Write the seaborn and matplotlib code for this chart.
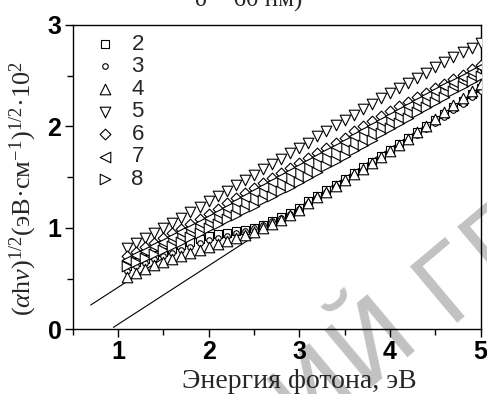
"""
Спектры поглощения: (alpha h nu)^1/2 против энергии фотона, образцы 2-8.
"""

import matplotlib
matplotlib.use("Agg")
import matplotlib.pyplot as plt
import pandas as pd
import seaborn as sns

# ── Data ─────────────────────────────────────────────────────────────────────
energy = [1.1, 1.2, 1.3, 1.4, 1.5, 1.6, 1.7, 1.8, 1.9, 2.0,
          2.1, 2.2, 2.3, 2.4, 2.5, 2.6, 2.7, 2.8, 2.9, 3.0,
          3.1, 3.2, 3.3, 3.4, 3.5, 3.6, 3.7, 3.8, 3.9, 4.0,
          4.1, 4.2, 4.3, 4.4, 4.5, 4.6, 4.7, 4.8, 4.9, 5.0]

s2 = [0.62, 0.66, 0.69, 0.73, 0.76, 0.79, 0.83, 0.86, 0.89, 0.92,
      0.94, 0.95, 0.97, 0.98, 1.00, 1.03, 1.07, 1.11, 1.15, 1.20,
      1.26, 1.31, 1.37, 1.42, 1.48, 1.54, 1.60, 1.65, 1.71, 1.77,
      1.83, 1.89, 1.94, 2.00, 2.06, 2.12, 2.19, 2.25, 2.32, 2.38]
s3 = [0.58, 0.62, 0.65, 0.69, 0.72, 0.75, 0.78, 0.81, 0.85, 0.88,
      0.90, 0.92, 0.95, 0.97, 1.00, 1.03, 1.07, 1.10, 1.14, 1.19,
      1.24, 1.30, 1.35, 1.41, 1.46, 1.52, 1.57, 1.63, 1.68, 1.74,
      1.80, 1.86, 1.91, 1.97, 2.03, 2.09, 2.16, 2.22, 2.29, 2.35]
s4 = [0.52, 0.56, 0.59, 0.63, 0.66, 0.69, 0.72, 0.75, 0.78, 0.81,
      0.84, 0.87, 0.90, 0.93, 0.96, 1.00, 1.04, 1.08, 1.13, 1.18,
      1.24, 1.30, 1.35, 1.41, 1.47, 1.53, 1.58, 1.64, 1.70, 1.76,
      1.82, 1.88, 1.94, 2.00, 2.07, 2.14, 2.21, 2.28, 2.35, 2.42]
s5 = [0.80, 0.85, 0.90, 0.95, 1.00, 1.05, 1.10, 1.16, 1.21, 1.26,
      1.31, 1.36, 1.42, 1.47, 1.52, 1.58, 1.63, 1.68, 1.74, 1.79,
      1.84, 1.90, 1.95, 2.01, 2.06, 2.11, 2.17, 2.22, 2.28, 2.33,
      2.38, 2.43, 2.48, 2.53, 2.58, 2.63, 2.68, 2.73, 2.77, 2.82]
s6 = [0.72, 0.76, 0.81, 0.85, 0.90, 0.95, 0.99, 1.04, 1.09, 1.14,
      1.19, 1.24, 1.29, 1.34, 1.39, 1.44, 1.49, 1.54, 1.59, 1.64,
      1.69, 1.74, 1.79, 1.84, 1.89, 1.95, 2.00, 2.05, 2.10, 2.15,
      2.20, 2.24, 2.29, 2.33, 2.38, 2.42, 2.47, 2.51, 2.56, 2.60]
s7 = [0.68, 0.73, 0.77, 0.82, 0.86, 0.91, 0.96, 1.00, 1.05, 1.10,
      1.15, 1.20, 1.25, 1.30, 1.35, 1.40, 1.45, 1.50, 1.55, 1.60,
      1.65, 1.70, 1.75, 1.80, 1.85, 1.90, 1.95, 2.00, 2.05, 2.10,
      2.15, 2.20, 2.25, 2.30, 2.35, 2.40, 2.44, 2.49, 2.54, 2.58]
s8 = [0.62, 0.66, 0.70, 0.74, 0.78, 0.82, 0.86, 0.91, 0.95, 1.00,
      1.04, 1.09, 1.13, 1.18, 1.22, 1.27, 1.31, 1.36, 1.40, 1.45,
      1.50, 1.55, 1.61, 1.66, 1.71, 1.77, 1.82, 1.87, 1.93, 1.98,
      2.03, 2.08, 2.14, 2.19, 2.24, 2.29, 2.35, 2.40, 2.45, 2.50]

labels = ["2", "3", "4", "5", "6", "7", "8"]
series = [s2, s3, s4, s5, s6, s7, s8]

# linear extrapolations to the energy axis
fit1_x = [0.70, 1.60]
fit1_y = [0.24, 0.76]
fit2_x = [0.95, 5.00]
fit2_y = [0.02, 2.36]

df = pd.concat(
    [pd.DataFrame({"E": energy, "F": vals, "sample": lab})
     for lab, vals in zip(labels, series)],
    ignore_index=True,
)

# ── Style ─────────────────────────────────────────────────────────────────────
sns.set_theme(style="ticks")
plt.rcParams["font.family"] = ["Liberation Serif", "DejaVu Serif"]
plt.rcParams["mathtext.fontset"] = "custom"
plt.rcParams["mathtext.rm"] = "Liberation Serif"
plt.rcParams["mathtext.it"] = "Liberation Serif:italic"

markers = {"2": ("s", 30), "3": ("o", 16), "4": ("^", 58), "5": ("v", 58),
           "6": ("D", 30), "7": ("<", 58), "8": (">", 58)}

fig = plt.figure(figsize=(4.87, 3.94), dpi=100)
ax = fig.add_axes([0.149, 0.164, 0.838, 0.773])
ax.patch.set_alpha(0)

# watermark of the source repository (behind everything)
fig.text(0.92, 0.18, "РЕПОЗИТОРИЙ ", rotation=40, rotation_mode="anchor",
         ha="right", va="baseline", fontsize=73, color="#c2c2c2",
         family="DejaVu Sans", zorder=-5)
fig.text(0.92, 0.18, "ГГТУ", rotation=40, rotation_mode="anchor",
         ha="left", va="baseline", fontsize=73, color="#c2c2c2",
         family="DejaVu Sans", zorder=-5)

sns.lineplot(x=fit1_x, y=fit1_y, ax=ax, color="black", lw=0.8, zorder=1)
sns.lineplot(x=fit2_x, y=fit2_y, ax=ax, color="black", lw=0.8, zorder=1)

for lab in labels:
    m, s = markers[lab]
    sns.scatterplot(data=df[df["sample"] == lab], x="E", y="F", ax=ax,
                    marker=m, s=s, color="white", edgecolor="black",
                    linewidth=0.8, label=lab, zorder=3)

ax.set_xlim(0.5, 5)
ax.set_ylim(0, 3)
ax.set_xticks([1, 2, 3, 4, 5])
ax.set_xticks([0.5, 1.5, 2.5, 3.5, 4.5], minor=True)
ax.set_yticks([0, 1, 2, 3])
ax.set_yticks([0.5, 1.5, 2.5], minor=True)

for sp in ax.spines.values():
    sp.set_visible(True)
    sp.set_color("black")
    sp.set_linewidth(1.0)

ax.tick_params(which="major", direction="out", length=6, width=1.0,
               colors="black", pad=2)
ax.tick_params(which="minor", direction="out", length=4, width=1.0,
               colors="black")
for t in ax.get_xticklabels() + ax.get_yticklabels():
    t.set_fontfamily("Liberation Sans")
    t.set_fontweight("bold")
    t.set_fontsize(18)

ax.set_xlabel("Энергия фотона, эВ", fontsize=20, va="baseline")
ax.xaxis.set_label_coords(0.555, -0.193)
ax.set_ylabel(r"($\alpha$h$\nu$)$^{1/2}$(эВ·см$^{-1}$)$^{1/2}$·10$^{2}$",
              fontsize=19, va="center")
ax.yaxis.set_label_coords(-0.12, 0.463)

leg = ax.legend(loc="upper left", bbox_to_anchor=(0.03, 1.0), frameon=False,
                borderaxespad=0, handlelength=1.0, handletextpad=0.7,
                labelspacing=0.07, prop={"family": "Liberation Sans", "size": 16})

# caption of the figure above, cut by the image edge
fig.text(0.51, 0.985, "δ = 60 нм)", ha="center", va="baseline", fontsize=18)

fig.savefig("out.png", dpi=100)
